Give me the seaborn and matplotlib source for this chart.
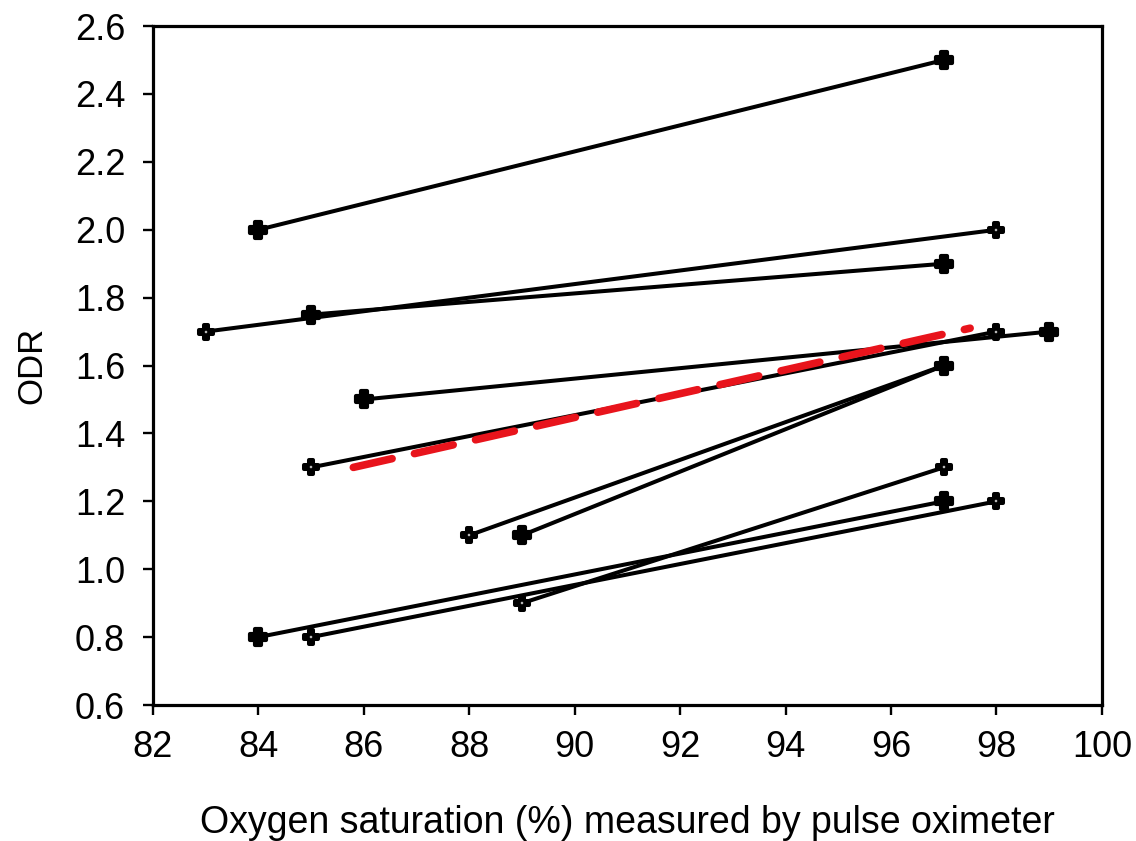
import matplotlib
matplotlib.use("Agg")
import matplotlib.pyplot as plt
import seaborn as sns
import pandas as pd

# Paired measurements: (start x, start y) -> (end x, end y), by marker type
pair_id   = [1, 1, 2, 2, 3, 3, 4, 4, 5, 5, 6, 6, 7, 7, 8, 8, 9, 9, 10, 10]
spo2      = [84, 97, 83, 98, 85, 97, 86, 99, 85, 98, 88, 97, 89, 97, 89, 97, 84, 97, 85, 98]
odr       = [2.0, 2.5, 1.7, 2.0, 1.75, 1.9, 1.5, 1.7, 1.3, 1.7, 1.1, 1.6, 1.1, 1.6, 0.9, 1.3, 0.8, 1.2, 0.8, 1.2]
kind      = ["filled", "filled", "open", "open", "filled", "filled", "filled", "filled",
             "open", "open", "open", "open", "filled", "filled", "open", "open",
             "filled", "filled", "open", "open"]

# Fitted trend line (red dashed)
fit_x = [85.8, 97.5]
fit_y = [1.30, 1.71]

x_ticks = [82, 84, 86, 88, 90, 92, 94, 96, 98, 100]
y_ticks = [0.6, 0.8, 1.0, 1.2, 1.4, 1.6, 1.8, 2.0, 2.2, 2.4, 2.6]

df = pd.DataFrame({"pair": pair_id, "x": spo2, "y": odr, "kind": kind})

sns.set_style("white")
plt.rcParams["font.family"] = ["Liberation Sans", "DejaVu Sans"]
plt.rcParams["text.color"] = "black"
plt.rcParams["axes.labelcolor"] = "black"

fig = plt.figure(figsize=(11.36, 8.41), dpi=100)
ax = fig.add_axes([0.1347, 0.1617, 0.970 - 0.1347, 0.969 - 0.1617])

sns.lineplot(data=df, x="x", y="y", units="pair", estimator=None, sort=False,
             color="black", linewidth=2.9, ax=ax, zorder=2, legend=False)

ax.plot(fit_x, fit_y, color="#e8141c", linewidth=5.5, linestyle=(0, (5.2, 3.0)),
        dash_capstyle="round", zorder=3)

op = df[df["kind"] == "open"]
fi = df[df["kind"] == "filled"]
sns.scatterplot(data=op, x="x", y="y", marker="P", s=115, facecolor="white",
                edgecolor="black", linewidth=2.9, ax=ax, zorder=4, legend=False)
sns.scatterplot(data=fi, x="x", y="y", marker="P", s=120, color="black",
                edgecolor="black", linewidth=3.0, ax=ax, zorder=5, legend=False)

ax.set_xlim(82, 100)
ax.set_ylim(0.6, 2.6)
ax.set_xticks(x_ticks)
ax.set_yticks(y_ticks)
ax.set_xticklabels([str(t) for t in x_ticks])
ax.set_yticklabels([f"{t:.1f}" for t in y_ticks])

for s in ax.spines.values():
    s.set_visible(True)
    s.set_color("black")
    s.set_linewidth(2.3)
ax.tick_params(axis="both", direction="out", length=7, width=1.7, color="black",
               labelsize=26, labelcolor="black", bottom=True, left=True)
ax.tick_params(axis="y", pad=13)
ax.tick_params(axis="x", pad=11)

ax.set_xlabel("Oxygen saturation (%) measured by pulse oximeter", fontsize=27, labelpad=29)
ax.set_ylabel("ODR", fontsize=25, labelpad=19)

fig.savefig("out.png", dpi=100)
